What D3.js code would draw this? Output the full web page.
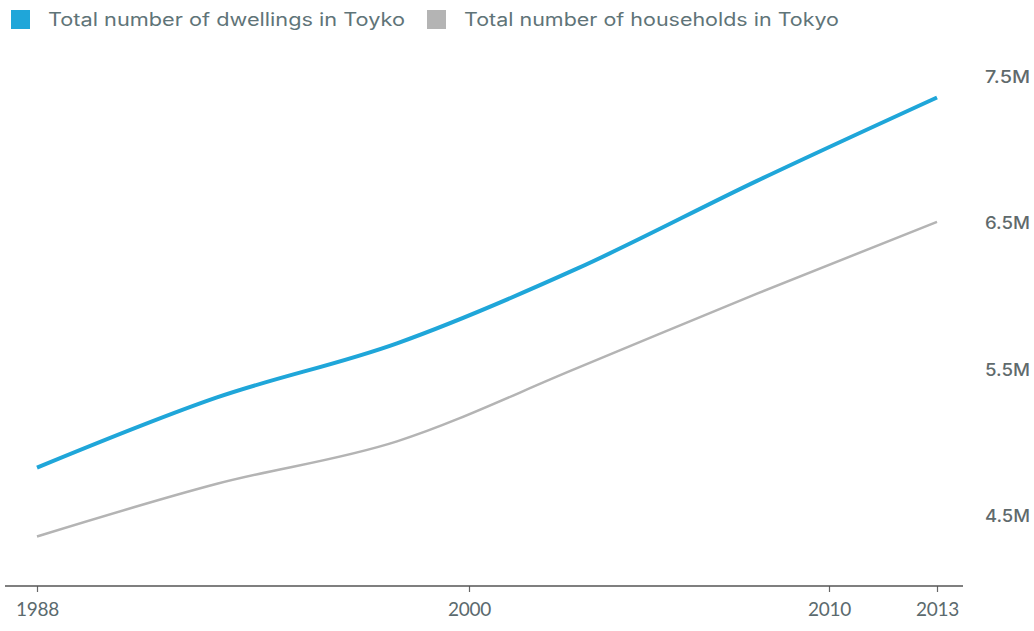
<!DOCTYPE html>
<html>
<head>
<meta charset="utf-8">
<script src="https://cdn.jsdelivr.net/npm/d3@7"></script>
<style>
  html, body { margin: 0; padding: 0; background: #fff; }
  svg { display: block; }
  text { font-family: "Inter", "Lato", sans-serif; }
</style>
</head>
<body>
<svg id="chart" width="1034" height="631"></svg>
<script>
const years = [1988, 1993, 1998, 2003, 2008, 2013];
const dwellings = [4.83, 5.31, 5.68, 6.19, 6.79, 7.36];
const households = [4.36, 4.72, 5.01, 5.51, 6.02, 6.51];
const xTicks = [1988, 2000, 2010, 2013];
const yTicks = [4.5, 5.5, 6.5, 7.5];
const seriesNames = ["Total number of dwellings in Toyko", "Total number of households in Tokyo"];
const colors = ["#1fa6d9", "#b4b4b4"];

const svg = d3.select("#chart");
const x = d3.scaleLinear().domain([1988, 2013]).range([37, 937]);
const y = d3.scaleLinear().domain([4.5, 7.5]).range([516, 77]);

// x axis
const xAxis = d3.axisBottom(x).tickValues(xTicks).tickFormat(d3.format("d")).tickSize(6).tickSizeOuter(0);
const gx = svg.append("g").attr("transform", "translate(0,586)").call(xAxis);
gx.select(".domain").remove();
gx.append("line").attr("x1", 5).attr("x2", 963).attr("y1", 0).attr("y2", 0)
  .attr("stroke", "#555").attr("stroke-width", 1.5);
gx.selectAll(".tick line").attr("stroke", "#666").attr("stroke-width", 1.2);
gx.selectAll(".tick text").attr("fill", "#5b6a6e").attr("font-size", 19)
  .style("font-family", "Lato, sans-serif")
  .attr("dy", "1.1em").style("letter-spacing", "-0.3px");

// y labels on right
const yAxis = d3.axisRight(y).tickValues(yTicks).tickFormat(d => d + "M").tickSize(0);
const gy = svg.append("g").attr("transform", "translate(985,0)").call(yAxis);
gy.select(".domain").remove();
gy.selectAll(".tick text").attr("x", 0).attr("fill", "#5f6a6c").attr("font-size", 17)
  .attr("font-weight", 500).attr("textLength", 45).attr("lengthAdjust", "spacingAndGlyphs");

// lines
const line = d3.line().x((d, i) => x(years[i])).y(d => y(d)).curve(d3.curveMonotoneX);
svg.append("path").datum(households).attr("d", line)
  .attr("fill", "none").attr("stroke", colors[1]).attr("stroke-width", 2.5);
svg.append("path").datum(dwellings).attr("d", line)
  .attr("fill", "none").attr("stroke", colors[0]).attr("stroke-width", 4);

// legend
const legendX = [11, 427];
const legendLen = [357, 375];
seriesNames.forEach((name, i) => {
  const g = svg.append("g").attr("transform", `translate(${legendX[i]},10)`);
  g.append("rect").attr("width", 19).attr("height", 19).attr("fill", colors[i]);
  g.append("text").attr("x", 37).attr("y", 16).attr("font-size", 18)
    .attr("textLength", legendLen[i]).attr("lengthAdjust", "spacingAndGlyphs")
    .attr("fill", "#5f7478").text(name);
});
</script>
</body>
</html>
